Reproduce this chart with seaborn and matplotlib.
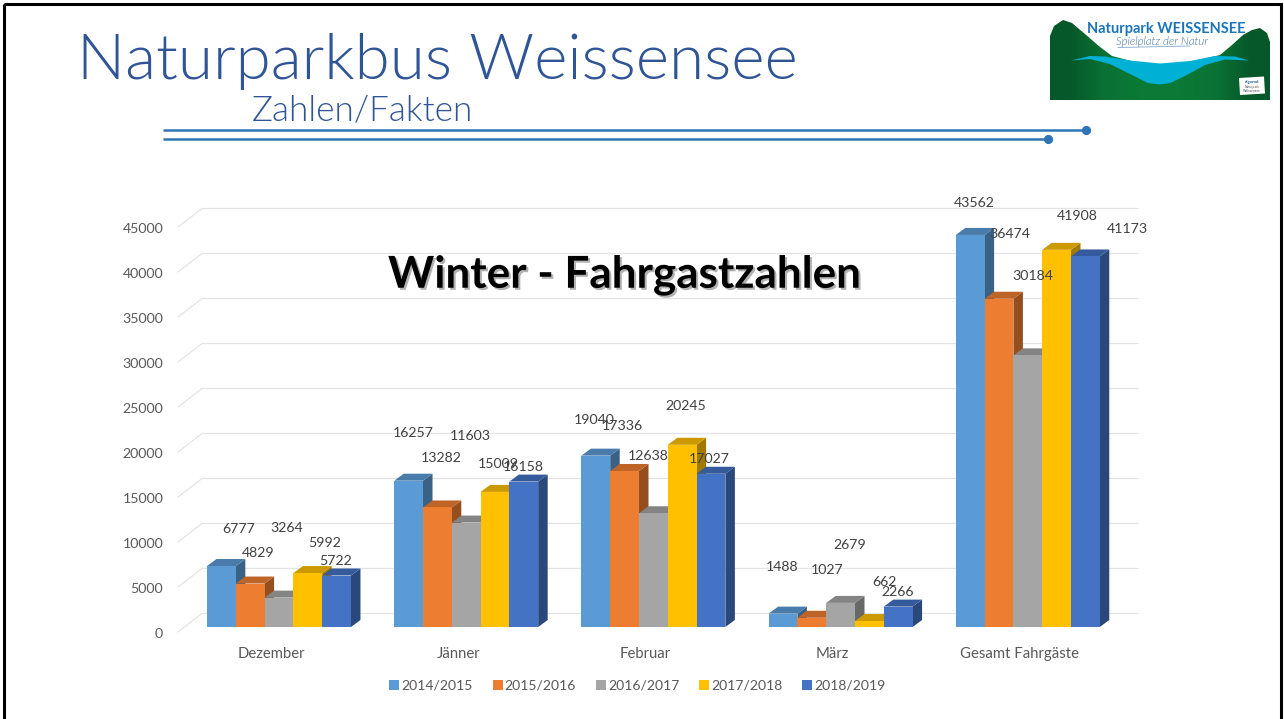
import numpy as np
import pandas as pd
import matplotlib
matplotlib.use("Agg")
import matplotlib.pyplot as plt
import matplotlib.patheffects as pe
import matplotlib.transforms as mtrans
from matplotlib.patches import Polygon, Rectangle
from matplotlib.colors import to_rgb
import seaborn as sns

categories = ["Dezember", "Jänner", "Februar", "März", "Gesamt Fahrgäste"]
seasons = ["2014/2015", "2015/2016", "2016/2017", "2017/2018", "2018/2019"]
v_2014 = [6777, 16257, 19040, 1488, 43562]
v_2015 = [4829, 13282, 17336, 1027, 36474]
v_2016 = [3264, 11603, 12638, 2679, 30184]
v_2017 = [5992, 15009, 20245, 662, 41908]
v_2018 = [5722, 16158, 17027, 2266, 41173]
season_values = [v_2014, v_2015, v_2016, v_2017, v_2018]
colors = ["#5b9bd5", "#ed7d31", "#a5a5a5", "#ffc000", "#4472c4"]
yticks = list(range(0, 45001, 5000))

# label offsets from the bar-top centre, in pixels (one row per season)
label_dx = [[17, 5, -2, -1, 4], [8, 4, -2, 15, 11], [8, 4, -5, 9, 5], [17, 3, 4, 15, 21], [-1, -1, -2, -1, 42]]
label_dy = [[37, 48, 36, 47, 32], [31, 49, 45, 48, 65], [70, 87, 57, 58, 79], [30, 28, 39, 39, 34], [15, 15, 15, 15, 27]]

W, H = 1284, 719
sns.set_style("white")
plt.rcParams["font.family"] = ["Lato", "DejaVu Sans"]
TXT = "#595959"

fig = plt.figure(figsize=(W / 100, H / 100), dpi=100, facecolor="white")
AL, AR, AT, AB = 185.4, 1121.4, 222.0, 627.0
ax = fig.add_axes([AL / W, 1 - AB / H, (AR - AL) / W, (AB - AT) / H])

df = pd.DataFrame({
    "Monat": categories * len(seasons),
    "Saison": [s for s in seasons for _ in categories],
    "Fahrgäste": [v for vals in season_values for v in vals],
})
sns.barplot(data=df, x="Monat", y="Fahrgäste", hue="Saison", order=categories,
            hue_order=seasons, palette=colors, width=0.769, gap=0, saturation=1,
            errorbar=None, ax=ax, linewidth=0, legend=True)
ax.set_xlim(-0.5, 4.5)
ax.set_ylim(0, 45000)
ax.set_xlabel("")
ax.set_ylabel("")
sns.despine(ax=ax, left=True, bottom=True, top=True, right=True)
ax.patch.set_alpha(0)

xu = 5 / (AR - AL)        # data units per pixel
yu = 45000 / (AB - AT)
DX, DY = 9.5 * xu, 7 * yu


def darker(c, f):
    return tuple(f * a for a in to_rgb(c))


# back wall and floor lines
for t in yticks:
    ax.plot([-0.5 - 7.4 * xu, -0.5 + 16.6 * xu, -0.5 + 952.6 * xu],
            [t - 5 * yu, t + 13.5 * yu, t + 13.5 * yu],
            color="#e4e4e4", lw=0.9, zorder=1, clip_on=False, solid_joinstyle="miter")

# 3D faces built from each bar
for i, (cont, col) in enumerate(zip(ax.containers, colors)):
    for j, bar in enumerate(cont):
        x0, w, h = bar.get_x(), bar.get_width(), bar.get_height()
        bar.set_zorder(3 + i + 0.5)
        bar.set_edgecolor("none")
        ax.add_patch(Polygon([(x0 + w, 0), (x0 + w + DX, DY), (x0 + w + DX, h + DY), (x0 + w, h)],
                             fc=darker(col, 0.63), ec="none", zorder=3 + i, clip_on=False))
        ax.add_patch(Polygon([(x0, h), (x0 + DX, h + DY), (x0 + w + DX, h + DY), (x0 + w, h)],
                             fc=darker(col, 0.8), ec="none", zorder=3 + i, clip_on=False))
        ax.annotate(str(season_values[i][j]), xy=(x0 + w / 2, h),
                    xytext=(label_dx[i][j], label_dy[i][j]), textcoords="offset pixels",
                    ha="center", va="center", fontsize=10.2, color="#404040",
                    zorder=20, annotation_clip=False)

# axis ticks
ax.set_yticks(yticks)
ax.set_yticklabels([str(t) for t in yticks])
ax.tick_params(axis="y", length=0, pad=16, labelsize=10.2, labelcolor=TXT, left=False)
ax.tick_params(axis="x", length=0, pad=14.6, labelsize=10.7, labelcolor=TXT, bottom=False)
for lab in ax.get_yticklabels():
    lab.set_transform(lab.get_transform() + mtrans.ScaledTranslation(0, -6 / 100, fig.dpi_scale_trans))
for lab in ax.get_xticklabels():
    lab.set_transform(lab.get_transform() + mtrans.ScaledTranslation(-8 / 100, 0, fig.dpi_scale_trans))

# legend
sns.move_legend(ax, "center", bbox_to_anchor=(637.5 / W, 1 - 686 / H),
                bbox_transform=fig.transFigure, ncol=5, frameon=False, title=None,
                fontsize=10.1, handlelength=0.72, handleheight=0.72, handletextpad=0.15,
                columnspacing=1.4, labelcolor=TXT)

# page furniture in pixel coordinates
ov = fig.add_axes([0, 0, 1, 1], facecolor="none", zorder=10)
ov.set_xlim(0, W)
ov.set_ylim(H, 0)
ov.axis("off")
BLUE = "#2f5597"
ov.text(77, 62, "Naturparkbus Weissensee", fontsize=45.9, color=BLUE, weight=300, va="center", ha="left")
ov.text(252, 111, "Zahlen/Fakten", fontsize=25.3, color=BLUE, weight=300, va="center", ha="left")
ov.plot([163, 1086], [130, 130], color="#2e75b6", lw=1.8, solid_capstyle="butt")
ov.plot([163, 1048], [138.5, 138.5], color="#2e75b6", lw=1.8, solid_capstyle="butt")
ov.plot([1086, 1048], [130, 138.5], ls="none", marker="o", ms=5.6, color="#2e75b6")
ov.add_patch(Rectangle((4.3, 4.3), 1276.7, 730, fc="none", ec="black", lw=2.2))

ov.text(624, 275, "Winter - Fahrgastzahlen", fontsize=31.7, weight="bold", color="black",
        ha="center", va="center",
        path_effects=[pe.withSimplePatchShadow(offset=(1.5, -1.5), shadow_rgbFace="#555555", alpha=0.45)])

# logo
hill = Polygon([(1050, 100), (1050, 36), (1054, 26), (1063, 20), (1072, 23), (1085, 34), (1100, 47),
                (1112, 56), (1135, 62), (1160, 65), (1190, 62), (1220, 55), (1232, 45), (1243, 35),
                (1252, 30), (1260, 28), (1267, 33), (1270, 42), (1270, 100)],
               closed=True, fc="none", ec="none", transform=ov.transData)
ov.add_patch(hill)
grad = np.array([[0.0, 0.75, 1.0, 1.0, 0.8, 0.0]])
img = ov.imshow(grad, extent=(1050, 1270, 100, 20), aspect="auto", zorder=2,
                cmap=matplotlib.colors.LinearSegmentedColormap.from_list("g", ["#06572a", "#0b7a36"]),
                interpolation="bilinear")
img.set_clip_path(hill)
ov.set_xlim(0, W)
ov.set_ylim(H, 0)
ov.add_patch(Polygon([(1071, 60.5), (1090, 56), (1105, 56.5), (1130, 60.5), (1160, 63.5), (1190, 61),
                      (1215, 56), (1235, 56.5), (1249, 60.5), (1225, 59.5), (1205, 65), (1185, 76),
                      (1170, 83), (1160, 84.5), (1148, 83), (1130, 74), (1110, 64), (1090, 59)],
                     fc="#00b1d6", ec="none", zorder=3))
ov.add_patch(Polygon([(1239, 78), (1264, 76.5), (1265, 93.5), (1240, 95)], fc="white", ec="none", zorder=3))
ov.text(1252, 82, "elgarnd", fontsize=3.2, weight="bold", color="#1f5f9e", ha="center", va="center", zorder=4)
ov.text(1252, 89, "Naturpark\nWeissensee", fontsize=2.4, color="#555555", ha="center", va="center", zorder=4, linespacing=1)
ov.text(1166, 29, "Naturpark WEISSENSEE", fontsize=10.5, weight="bold", color="#1b75bb", ha="center", va="center", zorder=4)
ov.text(1162, 41.5, "Spielplatz der Natur", fontsize=8.2, style="italic", weight=300, color="#3f6f9f", ha="center", va="center", zorder=4)
ov.plot([1118, 1190], [47.5, 46], color="#7fa8cf", lw=0.6, zorder=4)

fig.savefig("out.png", dpi=100)
